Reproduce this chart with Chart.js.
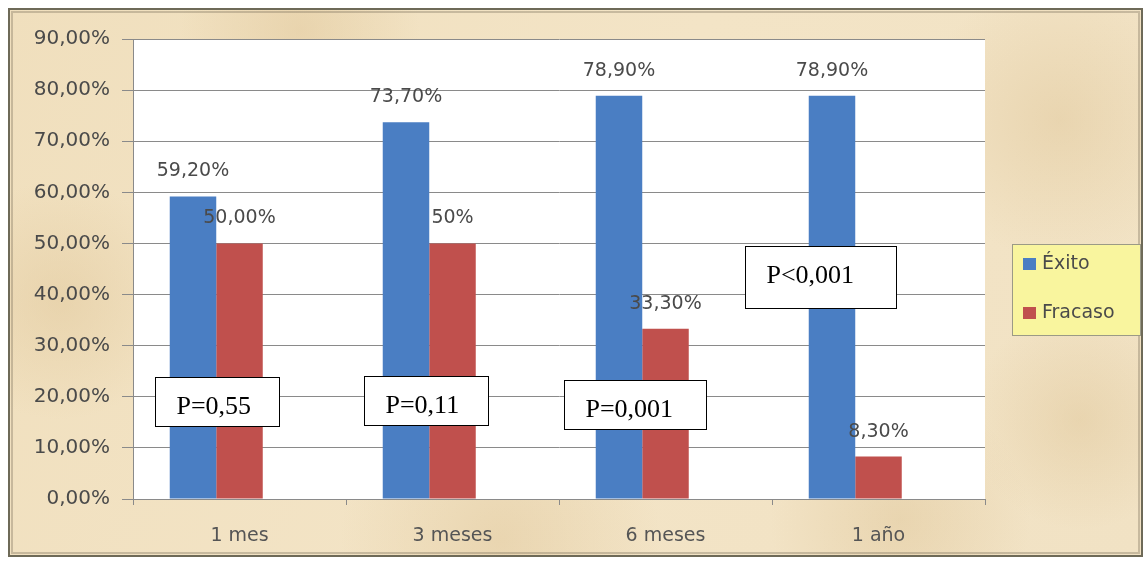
<!DOCTYPE html>
<html>
<head>
<meta charset="utf-8">
<script src="https://cdn.jsdelivr.net/npm/chart.js@4.4.1/dist/chart.umd.min.js"></script>
<style>
    html, body { margin:0; padding:0; background:#fff; }
    #contenedor { width:1148px; height:564px; position:relative; }
</style>
</head>
<body>
<div id="contenedor"><canvas id="grafico"></canvas></div>
<script>
    // datos
    const periodos = ["1 mes", "3 meses", "6 meses", "1 año"];
    const series = ["Éxito", "Fracaso"];
    const exito = [59.2, 73.7, 78.9, 78.9];
    const fracaso = [50.0, 50.0, 33.3, 8.3];
    const etiquetasExito = ["59,20%", "73,70%", "78,90%", "78,90%"];
    const etiquetasFracaso = ["50,00%", "50%", "33,30%", "8,30%"];
    const valoresP = ["P=0,55", "P=0,11", "P=0,001", "P<0,001"];
    const ejeMin = 0, ejeMax = 90, ejePaso = 10;

    const azul = "#4a7ec3";
    const rojo = "#c0504d";
    const textoGris = "#4a4a4a";
    const fuente = "'DejaVu Sans', sans-serif";

    // fondo de pergamino, marco y area blanca
    const fondo = {
        id: "fondo",
        beforeDraw(chart) {
            const ctx = chart.ctx;
            const a = chart.chartArea;
            ctx.save();
            ctx.fillStyle = "#fff";
            ctx.fillRect(0, 0, chart.width, chart.height);
            const g = ctx.createLinearGradient(0, 0, chart.width, chart.height);
            g.addColorStop(0, "#f0dfbd");
            g.addColorStop(0.5, "#f3e4c6");
            g.addColorStop(1, "#f1e2c4");
            ctx.fillStyle = g;
            ctx.fillRect(9, 9, 1133, 547);
            // manchas suaves
            const manchas = [[60, 300, 120], [1060, 120, 140], [500, 540, 160], [900, 520, 130], [300, 30, 120], [1080, 420, 110]];
            manchas.forEach(function (m) {
                const r = ctx.createRadialGradient(m[0], m[1], 0, m[0], m[1], m[2]);
                r.addColorStop(0, "rgba(222,196,150,0.45)");
                r.addColorStop(1, "rgba(222,196,150,0)");
                ctx.fillStyle = r;
                ctx.fillRect(9, 9, 1133, 547);
            });
            ctx.strokeStyle = "#6e6a58";
            ctx.lineWidth = 2;
            ctx.strokeRect(9, 9, 1133, 547);
            ctx.strokeStyle = "rgba(120,110,90,0.35)";
            ctx.lineWidth = 2;
            ctx.strokeRect(12, 12, 1127, 541);
            ctx.fillStyle = "#fff";
            ctx.fillRect(a.left, a.top, a.right - a.left, a.bottom - a.top);
            ctx.restore();
        }
    };

    // etiquetas de datos, cajas con P y leyenda
    const extras = {
        id: "extras",
        afterDatasetsDraw(chart) {
            const ctx = chart.ctx;
            const x = chart.scales.x;
            const y = chart.scales.y;
            ctx.save();

            ctx.font = "19px " + fuente;
            ctx.fillStyle = textoGris;
            ctx.textAlign = "center";
            ctx.textBaseline = "middle";
            [etiquetasExito, etiquetasFracaso].forEach(function (etq, d) {
                chart.getDatasetMeta(d).data.forEach(function (barra, i) {
                    ctx.fillText(etq[i], barra.x, barra.y - 25);
                });
            });

            const cajas = [
                { dx: -23, v: 19.0, w: 124, h: 49 },
                { dx: -27, v: 19.2, w: 124, h: 49 },
                { dx: -31, v: 18.4, w: 142, h: 49 },
                { dx: -58, v: 43.5, w: 151, h: 62 }
            ];
            ctx.font = "26px 'Liberation Serif', serif";
            ctx.textAlign = "left";
            ctx.textBaseline = "alphabetic";
            cajas.forEach(function (c, i) {
                const cx = x.getPixelForValue(i) + c.dx;
                const cy = y.getPixelForValue(c.v);
                const l = Math.round(cx - c.w / 2) + 0.5;
                const t = Math.round(cy - c.h / 2) + 0.5;
                ctx.fillStyle = "#fff";
                ctx.fillRect(l, t, c.w, c.h);
                ctx.strokeStyle = "#000";
                ctx.lineWidth = 1;
                ctx.strokeRect(l, t, c.w, c.h);
                ctx.fillStyle = "#000";
                ctx.fillText(valoresP[i], l + 21, t + 36);
            });

            // leyenda
            ctx.fillStyle = "#f9f59e";
            ctx.fillRect(1012, 244, 128, 91);
            ctx.strokeStyle = "#9b9a86";
            ctx.strokeRect(1012.5, 244.5, 128, 91);
            ctx.font = "19px " + fuente;
            ctx.textBaseline = "middle";
            [azul, rojo].forEach(function (col, k) {
                const yy = 264 + k * 49;
                ctx.fillStyle = col;
                ctx.fillRect(1023, yy - 6, 13, 12);
                ctx.fillStyle = textoGris;
                ctx.fillText(series[k], 1042, yy);
            });
            ctx.restore();
        }
    };

    new Chart("grafico", {
        type: "bar",
        data: {
            labels: periodos,
            datasets: [{
                label: series[0],
                data: exito,
                backgroundColor: azul
            }, {
                label: series[1],
                data: fracaso,
                backgroundColor: rojo
            }, {
                // hueco vacio: el grupo de barras queda a la izquierda como en el original
                label: "",
                data: [null, null, null, null],
                backgroundColor: "rgba(0,0,0,0)"
            }]
        },
        options: {
            responsive: true,
            maintainAspectRatio: false,
            animation: false,
            layout: { padding: { left: 10, right: 163, top: 39, bottom: 9 } },
            plugins: {
                legend: { display: false },
                tooltip: { enabled: false }
            },
            datasets: {
                bar: { categoryPercentage: 0.655, barPercentage: 1 }
            },
            scales: {
                x: {
                    grid: { offset: true, drawOnChartArea: false, drawTicks: true, tickLength: 6, color: "#8a8a8a" },
                    border: { color: "#8a8a8a" },
                    ticks: { color: "#555", font: { family: fuente, size: 19 }, padding: 20 },
                    afterFit(s) { s.height = 56; }
                },
                y: {
                    min: ejeMin,
                    max: ejeMax,
                    ticks: {
                        stepSize: ejePaso,
                        color: textoGris,
                        font: { family: fuente, size: 20 },
                        padding: 12,
                        callback: function (v) { return v.toFixed(2).replace(".", ",") + "%"; }
                    },
                    grid: { color: "#8a8a8a", tickLength: 11 },
                    border: { color: "#8a8a8a" },
                    afterFit(s) { s.width = 123; }
                }
            }
        },
        plugins: [fondo, extras]
    });
</script>
</body>
</html>
